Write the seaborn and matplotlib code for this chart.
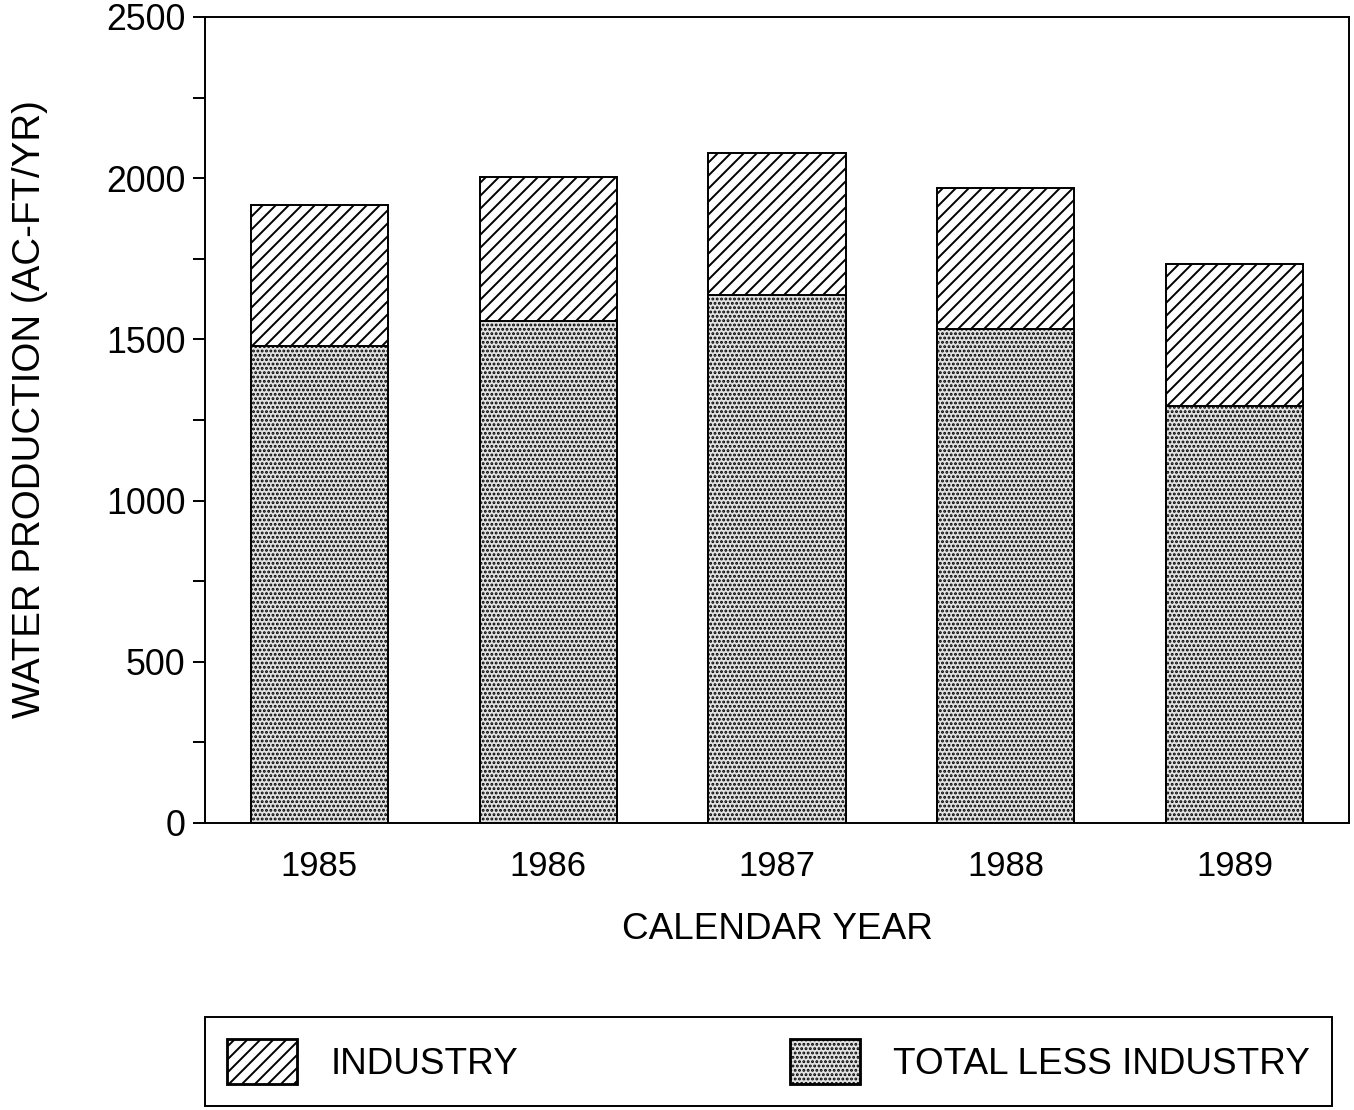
import matplotlib
matplotlib.use('Agg')
import matplotlib.pyplot as plt
import matplotlib.patches as mpatches
from matplotlib.ticker import MultipleLocator
import seaborn as sns

# values (AC-FT/YR)
years = ['1985', '1986', '1987', '1988', '1989']
total = [1917, 2004, 2078, 1971, 1733]
total_less_industry = [1480, 1557, 1638, 1531, 1294]

sns.set_style('ticks')
plt.rcParams['font.family'] = ['Liberation Sans', 'DejaVu Sans']
plt.rcParams['hatch.linewidth'] = 1.8
plt.rcParams['hatch.color'] = 'black'
plt.rcParams['text.color'] = 'black'
plt.rcParams['axes.labelcolor'] = 'black'
plt.rcParams['xtick.color'] = 'black'
plt.rcParams['ytick.color'] = 'black'

LW = 1.8
DPI = 78
STIPPLE_FACE = '#e2e2e2'

fig = plt.figure(figsize=(1354 / DPI, 1110 / DPI), dpi=DPI)
ax = fig.add_axes([0.1514, 0.2586, 0.8449, 0.7261])

# full bar (industry on top), then the lower part drawn over it
sns.barplot(x=years, y=total, color='white', saturation=1, edgecolor='black',
            linewidth=LW, width=0.6, errorbar=None, ax=ax)
n = len(ax.patches)
sns.barplot(x=years, y=total_less_industry, color=STIPPLE_FACE, saturation=1, edgecolor='black',
            linewidth=LW, width=0.6, errorbar=None, ax=ax)
for p in ax.patches[:n]:
    p.set_hatch('//')
for p in ax.patches[n:]:
    p.set_hatch('...')

ax.set_xlim(-0.5, 4.5)
ax.set_ylim(0, 2500)
ax.yaxis.set_major_locator(MultipleLocator(500))
ax.yaxis.set_minor_locator(MultipleLocator(250))
ax.tick_params(axis='y', which='both', length=11, width=LW, direction='out', pad=7, labelsize=33)
ax.tick_params(axis='x', length=0, pad=25, labelsize=32)
for s in ax.spines.values():
    s.set_linewidth(LW)
    s.set_color('black')
    s.set_visible(True)

ax.set_xlabel('CALENDAR YEAR', fontsize=34, labelpad=27)
ax.set_ylabel('WATER PRODUCTION (AC-FT/YR)', fontsize=35.5)
ax.yaxis.set_label_coords(-0.137, 0.514)

handles = [
    mpatches.Patch(facecolor='white', edgecolor='black', linewidth=2.6, hatch='//', label='INDUSTRY'),
    mpatches.Patch(facecolor=STIPPLE_FACE, edgecolor='black', linewidth=2.6, hatch='...', label='TOTAL LESS INDUSTRY'),
]
leg = fig.legend(handles=handles, loc='center', ncol=2, mode='expand',
                 bbox_to_anchor=(0.1514, 0.0018, 0.8323, 0.0838),
                 fontsize=34, handlelength=1.9, handleheight=1.5, handletextpad=0.9,
                 borderpad=0.6, borderaxespad=0, fancybox=False, framealpha=1)
leg.get_frame().set_edgecolor('black')
leg.get_frame().set_linewidth(LW)

fig.savefig('out.png', dpi=DPI)
